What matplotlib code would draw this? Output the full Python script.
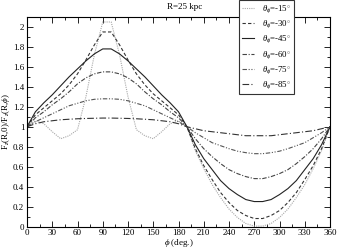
import matplotlib
matplotlib.use("Agg")
import matplotlib.pyplot as plt
from matplotlib.ticker import MultipleLocator

plt.rcParams['font.family'] = ['Liberation Serif', 'DejaVu Serif']
plt.rcParams['mathtext.fontset'] = 'custom'
plt.rcParams['mathtext.rm'] = 'Liberation Serif'
plt.rcParams['mathtext.it'] = 'Liberation Serif:italic'

phi = [0, 10, 20, 30, 40, 50, 60, 70, 80, 90, 100, 110, 120, 130, 140, 150, 160, 170, 180, 190,
       200, 210, 220, 230, 240, 250, 260, 270, 280, 290, 300, 310, 320, 330, 340, 350, 360]

theta_labels = ["-15", "-30", "-45", "-60", "-75", "-85"]

r15 = [1.00, 1.06, 1.03, 0.95, 0.88, 0.91, 0.97, 1.30, 1.72, 2.05, 2.05, 1.72, 1.30, 0.97, 0.91, 0.88, 0.95, 1.03, 1.06, 1.00,
       0.76, 0.58, 0.42, 0.29, 0.175, 0.09, 0.03, 0.004, 0.004, 0.03, 0.09, 0.175, 0.29, 0.42, 0.58, 0.76, 1.00]
r30 = [1.00, 1.12, 1.19, 1.26, 1.33, 1.42, 1.53, 1.67, 1.82, 1.95, 1.95, 1.82, 1.67, 1.53, 1.42, 1.33, 1.26, 1.19, 1.12, 1.00,
       0.78, 0.61, 0.47, 0.34, 0.24, 0.16, 0.11, 0.08, 0.08, 0.11, 0.16, 0.24, 0.34, 0.47, 0.61, 0.78, 1.00]
r45 = [1.00, 1.15, 1.24, 1.32, 1.41, 1.50, 1.58, 1.66, 1.73, 1.78, 1.78, 1.73, 1.66, 1.58, 1.50, 1.41, 1.32, 1.24, 1.15, 1.00,
       0.82, 0.68, 0.57, 0.46, 0.38, 0.32, 0.27, 0.25, 0.25, 0.27, 0.32, 0.38, 0.46, 0.57, 0.68, 0.82, 1.00]
r60 = [1.00, 1.09, 1.15, 1.22, 1.28, 1.35, 1.43, 1.49, 1.53, 1.55, 1.55, 1.53, 1.49, 1.43, 1.35, 1.28, 1.22, 1.15, 1.09, 1.00,
       0.88, 0.78, 0.70, 0.63, 0.57, 0.53, 0.50, 0.48, 0.48, 0.50, 0.53, 0.57, 0.63, 0.70, 0.78, 0.88, 1.00]
r75 = [1.00, 1.05, 1.09, 1.13, 1.17, 1.21, 1.235, 1.26, 1.275, 1.28, 1.28, 1.275, 1.26, 1.235, 1.21, 1.17, 1.13, 1.09, 1.05, 1.00,
       0.94, 0.89, 0.84, 0.81, 0.78, 0.755, 0.74, 0.73, 0.73, 0.74, 0.755, 0.78, 0.81, 0.84, 0.89, 0.94, 1.00]
r85 = [1.00, 1.03, 1.05, 1.06, 1.07, 1.075, 1.08, 1.083, 1.085, 1.087, 1.087, 1.085, 1.083, 1.08, 1.075, 1.07, 1.06, 1.05, 1.03, 1.00,
       0.98, 0.96, 0.95, 0.94, 0.93, 0.92, 0.91, 0.91, 0.91, 0.91, 0.92, 0.93, 0.94, 0.95, 0.96, 0.98, 1.00]

series = [r15, r30, r45, r60, r75, r85]
styles = [
    dict(color='#a8a8a8', linestyle=(0, (1, 1))),
    dict(color='#333333', linestyle=(0, (3, 2))),
    dict(color='#222222', linestyle='-'),
    dict(color='#444444', linestyle=(0, (4, 1.5, 1, 1.5))),
    dict(color='#555555', linestyle=(0, (4, 1.5, 1, 1.5, 1, 1.5))),
    dict(color='#333333', linestyle=(0, (6, 2, 1, 2))),
]

fig = plt.figure(figsize=(3.38, 2.50), dpi=100)
ax = fig.add_axes([27/338, 1 - 226.5/250, 303/338, 209.5/250])

for vals, lab, st in zip(series, theta_labels, styles):
    ax.plot(phi, vals, lw=0.8, label=r'$\theta_{\phi}$=' + lab + r'$^{\circ}$', **st)

ax.set_xlim(0, 360)
ax.set_ylim(0, 2.1)
ax.xaxis.set_major_locator(MultipleLocator(30))
ax.xaxis.set_minor_locator(MultipleLocator(15))
ax.yaxis.set_minor_locator(MultipleLocator(0.1))
ax.set_yticks([0, 0.2, 0.4, 0.6, 0.8, 1.0, 1.2, 1.4, 1.6, 1.8, 2.0])
ax.set_yticklabels(['0', '0.2', '0.4', '0.6', '0.8', '1', '1.2', '1.4', '1.6', '1.8', '2'])
ax.tick_params(which='both', direction='in', top=True, right=True, labelsize=6.5, pad=2)
ax.tick_params(which='major', length=4, width=0.6)
ax.tick_params(which='minor', length=2, width=0.6)
for s in ax.spines.values():
    s.set_linewidth(0.8)

ax.set_xlabel(r'$\phi$ (deg.)', fontsize=6.5, labelpad=0)
ax.set_ylabel(r'F$_z$(R,0)/F$_z$(R,$\phi$)', fontsize=6.5, labelpad=1)
fig.text(185/338, 1 - 7/250, 'R=25 kpc', fontsize=6.5, ha='center', va='center')

leg = fig.legend(loc='upper left', bbox_to_anchor=(239/338, 1.0), fontsize=6.3, frameon=True,
                 fancybox=False, edgecolor='#333333', framealpha=1, handlelength=1.4,
                 handletextpad=0.9, labelspacing=0.4, borderpad=0.35, borderaxespad=0)
leg.get_frame().set_linewidth(0.8)

fig.savefig('out.png', dpi=100)
